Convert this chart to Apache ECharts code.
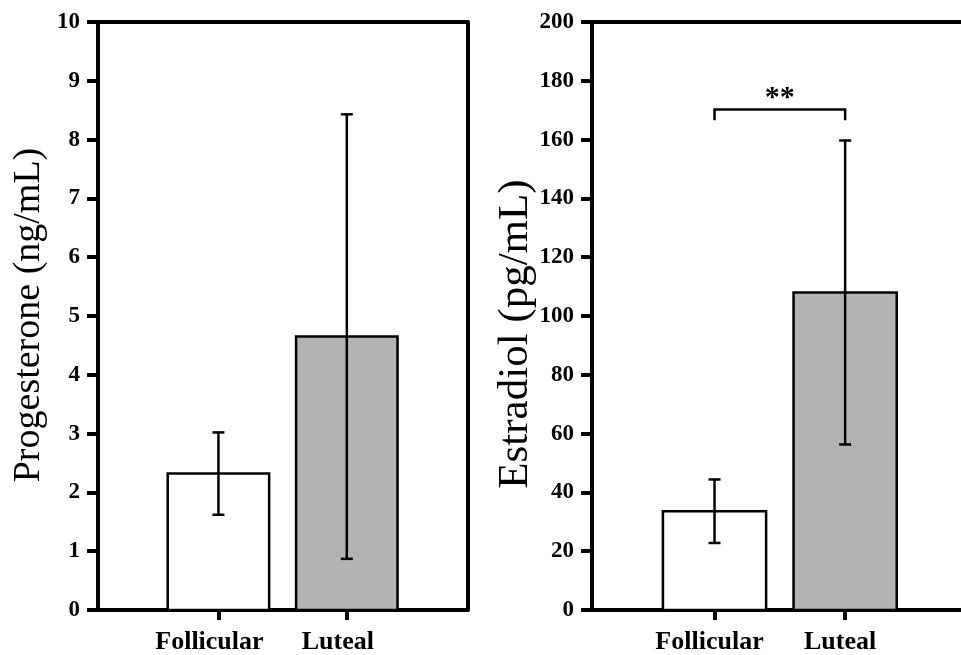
<!DOCTYPE html>
<html>
<head>
<meta charset="utf-8">
<script src="https://cdn.jsdelivr.net/npm/echarts@6/dist/echarts.min.js"></script>
<style>
  html, body { margin: 0; padding: 0; background: #fff; }
  #main { width: 961px; height: 655px; }
</style>
</head>
<body>
<div id="main"></div>
<script>
// hormone levels by menstrual phase (mean +/- error)
var categories = ['Follicular', 'Luteal'];
var progMean = [2.32, 4.65];
var progErr = [0.70, 3.78];
var estrMean = [33.6, 108.0];
var estrErr = [10.8, 51.7];
var barColors = ['#ffffff', '#b3b3b3'];
// significance bracket on the estradiol panel
var sigPair = [1, 2];
var sigLevel = 170.2;
var sigDrop = 3.6;
var sigLabel = '**';

var serif = '"Liberation Serif", "Times New Roman", serif';

function renderBar(params, api) {
  var x = api.value(0), m = api.value(1), e = api.value(2);
  var half = 0.395;
  var tl = api.coord([x - half, m]);
  var br = api.coord([x + half, 0]);
  var top = api.coord([x, m + e]);
  var bot = api.coord([x, m - e]);
  var cx = api.coord([x, m])[0];
  var cap = 6;
  var ls = { stroke: '#000', lineWidth: 2.5 };
  return {
    type: 'group',
    children: [
      { type: 'rect', shape: { x: tl[0], y: tl[1], width: br[0] - tl[0], height: br[1] - tl[1] },
        style: { fill: barColors[params.dataIndex], stroke: '#000', lineWidth: 2.5 } },
      { type: 'line', shape: { x1: cx, y1: top[1], x2: cx, y2: bot[1] }, style: ls },
      { type: 'line', shape: { x1: cx - cap, y1: top[1], x2: cx + cap, y2: top[1] }, style: ls },
      { type: 'line', shape: { x1: cx - cap, y1: bot[1], x2: cx + cap, y2: bot[1] }, style: ls }
    ]
  };
}

function renderSig(params, api) {
  var a = api.value(0), b = api.value(1), y = api.value(2), d = api.value(3);
  var p1 = api.coord([a, y - d]), p2 = api.coord([a, y]);
  var p3 = api.coord([b, y]), p4 = api.coord([b, y - d]);
  return {
    type: 'group',
    children: [
      { type: 'polyline', shape: { points: [p1, p2, p3, p4] },
        style: { stroke: '#000', lineWidth: 2.5, fill: null } },
      { type: 'text', x: (p2[0] + p3[0]) / 2, y: p2[1] + 4,
        style: { text: sigLabel, fill: '#000', font: 'bold 30px ' + serif,
                 align: 'center', verticalAlign: 'bottom' } }
    ]
  };
}

function xAxisFor(idx, max, pad) {
  return {
    type: 'value', gridIndex: idx, min: 0.062, max: max,
    splitLine: { show: false },
    axisLine: { onZero: false, lineStyle: { color: '#000', width: 4 } },
    axisTick: { customValues: [1, 2], length: 10, lineStyle: { color: '#000', width: 4 } },
    axisLabel: {
      customValues: [1, 2], margin: 19, padding: [0, pad, 0, 0],
      color: '#000', fontFamily: serif, fontWeight: 'bold', fontSize: 26,
      formatter: function (v) { return categories[Math.round(v) - 1]; }
    }
  };
}

function frameX(idx, max) {
  // top edge of the box
  return {
    type: 'value', gridIndex: idx, position: 'top', min: 0.062, max: max,
    splitLine: { show: false }, axisTick: { show: false }, axisLabel: { show: false },
    axisLine: { show: true, onZero: false, lineStyle: { color: '#000', width: 4 } }
  };
}

function yAxisFor(idx, max, step) {
  return {
    type: 'value', gridIndex: idx, min: 0, max: max, interval: step,
    splitLine: { show: false },
    axisLine: { show: true, onZero: false, lineStyle: { color: '#000', width: 4 } },
    axisTick: { show: true, length: 11, lineStyle: { color: '#000', width: 4 } },
    axisLabel: { margin: 18, color: '#000', fontFamily: serif, fontWeight: 'bold', fontSize: 23 }
  };
}

var myChart = echarts.init(document.getElementById('main'));
var option = {
  backgroundColor: '#fff',
  animation: false,
  grid: [
    { left: 98, top: 22, width: 369.5, height: 589 },
    { left: 592, top: 22, right: 0, height: 589 }
  ],
  xAxis: [xAxisFor(0, 2.94, 18), xAxisFor(1, 2.887, 10), frameX(0, 2.94), frameX(1, 2.887)],
  yAxis: [
    yAxisFor(0, 10, 1),
    yAxisFor(1, 200, 20),
    { type: 'value', gridIndex: 0, position: 'right', min: 0, max: 10,
      splitLine: { show: false }, axisTick: { show: false }, axisLabel: { show: false },
      axisLine: { show: true, onZero: false, lineStyle: { color: '#000', width: 4 } } }
  ],
  graphic: [
    { type: 'text', x: 29, y: 315, rotation: Math.PI / 2,
      style: { text: 'Progesterone (ng/mL)', font: '38px ' + serif, fill: '#000',
               align: 'center', verticalAlign: 'middle' } },
    { type: 'text', x: 516, y: 334, rotation: Math.PI / 2,
      style: { text: 'Estradiol (pg/mL)', font: '43px ' + serif, fill: '#000',
               align: 'center', verticalAlign: 'middle' } }
  ],
  series: [
    { type: 'custom', xAxisIndex: 0, yAxisIndex: 0, renderItem: renderBar,
      data: progMean.map(function (m, i) { return [i + 1, m, progErr[i]]; }) },
    { type: 'custom', xAxisIndex: 1, yAxisIndex: 1, renderItem: renderBar,
      data: estrMean.map(function (m, i) { return [i + 1, m, estrErr[i]]; }) },
    { type: 'custom', xAxisIndex: 1, yAxisIndex: 1, renderItem: renderSig,
      data: [[sigPair[0], sigPair[1], sigLevel, sigDrop]] }
  ]
};
myChart.setOption(option);
</script>
</body>
</html>
